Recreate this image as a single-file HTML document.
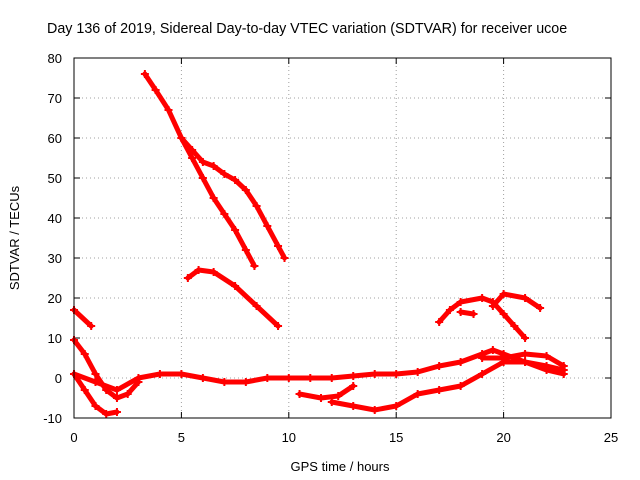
<!DOCTYPE html>
<html><head><meta charset="utf-8"><style>
body{margin:0;background:#fff}
svg{display:block;font-family:"Liberation Sans",sans-serif;font-size:13px}
</style></head><body>
<svg width="640" height="480">
<rect width="640" height="480" fill="#fff"/>
<text x="47" y="33" font-size="14.3">Day 136 of 2019, Sidereal Day-to-day VTEC variation (SDTVAR) for receiver ucoe</text>
<g id="grid"></g>
<g id="axes"></g>
<g id="series"></g>
<rect x="74" y="58" width="537" height="360" fill="none" stroke="#000" stroke-width="1"/>
<text x="340" y="471" text-anchor="middle">GPS time / hours</text>
<text transform="translate(19,238) rotate(-90)" text-anchor="middle">SDTVAR / TECUs</text>
</svg>
<script>
const xTicks=[0,5,10,15,20,25];
const yTicks=[-10,0,10,20,30,40,50,60,70,80];
const sA=[[3.3,76],[3.8,72],[4.4,67],[5,60],[5.5,55],[6,50],[6.5,45],[7,41],[7.5,37],[8,32],[8.4,28]];
const sB=[[5,60],[5.5,57],[6,54],[6.5,53],[7,51],[7.5,49.5],[8,47],[8.5,43],[9,38],[9.5,33],[9.8,30]];
const sC=[[5.3,25],[5.8,27],[6.5,26.5],[7.5,23],[8.5,18],[9.5,13]];
const sD=[[0,17],[0.8,13]];
const sE=[[0,9.5],[0.5,6],[1,1],[1.5,-3],[2,-5],[2.5,-4],[3,-1]];
const sF=[[0,1],[0.5,-3],[1,-7],[1.5,-9],[2,-8.5]];
const sG=[[0,1],[1,-1],[2,-3],[3,0],[4,1],[5,1],[6,0],[7,-1],[8,-1],[9,0],[10,0],[11,0],[12,0],[13,0.5],[14,1],[15,1],[16,1.5],[17,3],[18,4],[19,6],[19.5,7],[20,6],[21,4],[22,3],[22.8,2]];
const sH=[[10.5,-4],[11.5,-5],[12.3,-4.5],[13,-2]];
const sI=[[12,-6],[13,-7],[14,-8],[15,-7],[16,-4],[17,-3],[18,-2],[19,1],[20,4],[21,4],[22,2],[22.8,1]];
const sJ=[[17,14],[17.5,17],[18,19],[19,20],[19.5,19],[20,16],[20.5,13],[21,10]];
const sK=[[18,16.5],[18.6,16]];
const sL=[[19.5,18],[20,21],[21,20],[21.7,17.5]];
const sM=[[19,5],[20,5],[21,6],[22,5.5],[22.8,3]];
const allSeries=[sA,sB,sC,sD,sE,sF,sG,sH,sI,sJ,sK,sL,sM];
const NS="http://www.w3.org/2000/svg";
const X=v=>74+v*537/25, Y=v=>378-v*4;
function mk(t,a,p){const e=document.createElementNS(NS,t);for(const k in a)e.setAttribute(k,a[k]);p.appendChild(e);return e;}
const grid=document.getElementById('grid'),axes=document.getElementById('axes'),ser=document.getElementById('series');
xTicks.forEach(t=>{
 if(t>0&&t<25){const l=mk('line',{x1:X(t),x2:X(t),y1:58,y2:418,stroke:'#a0a0a0','stroke-dasharray':'1,3'},grid);
 }
 mk('line',{x1:X(t),x2:X(t),y1:418,y2:412,stroke:'#000'},axes);
 mk('line',{x1:X(t),x2:X(t),y1:58,y2:64,stroke:'#000'},axes);
 const tx=mk('text',{x:X(t),y:442,'text-anchor':'middle'},axes);tx.textContent=t;
 
});
yTicks.forEach(t=>{
 if(t>-10&&t<80){const l=mk('line',{x1:74,x2:611,y1:Y(t),y2:Y(t),stroke:'#a0a0a0','stroke-dasharray':'1,3'},grid);
 }
 mk('line',{x1:74,x2:80,y1:Y(t),y2:Y(t),stroke:'#000'},axes);
 mk('line',{x1:605,x2:611,y1:Y(t),y2:Y(t),stroke:'#000'},axes);
 const tx=mk('text',{x:62,y:Y(t)+5,'text-anchor':'end'},axes);tx.textContent=t;
 
});
allSeries.forEach(s=>{
 const pl=mk('polyline',{points:s.map(p=>X(p[0])+','+Y(p[1])).join(' '),fill:'none',stroke:'#f00','stroke-width':5,'stroke-linejoin':'round','stroke-linecap':'round'},ser);
 
 
 s.forEach(p=>{mk('path',{d:`M${X(p[0])-4},${Y(p[1])}h8M${X(p[0])},${Y(p[1])-4}v8`,stroke:'#f00','stroke-width':2},ser);});
});
</script>
</body></html>
